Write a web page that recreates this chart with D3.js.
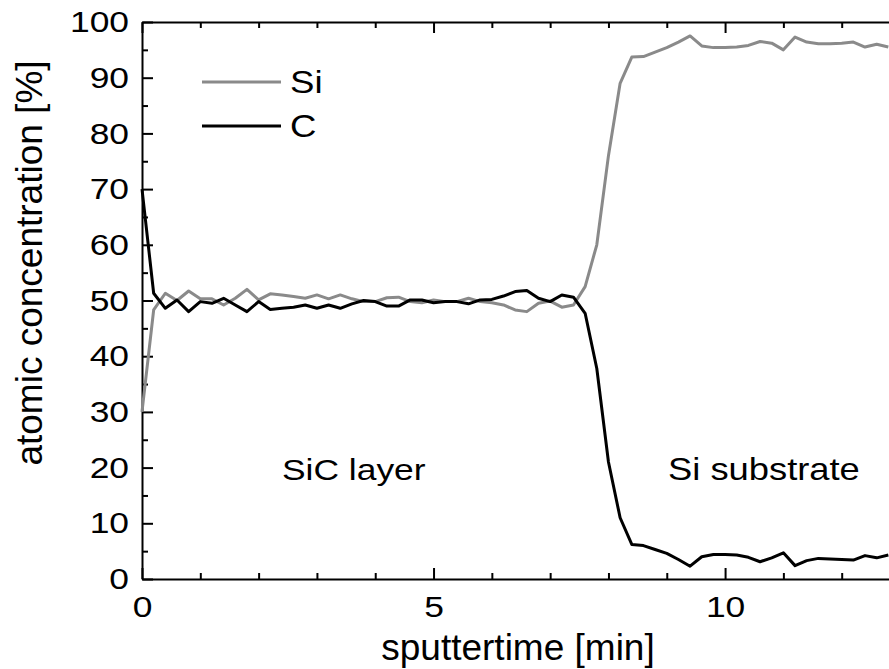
<!DOCTYPE html>
<html><head><meta charset="utf-8">
<script src="https://cdn.jsdelivr.net/npm/d3@7"></script>
<style>
body{margin:0;background:#fff;}
svg{display:block;}
text{font-family:"Liberation Sans",Arial,Helvetica,sans-serif;fill:#000;}
</style>
</head><body>
<svg id="chart" width="889" height="669"></svg>
<script>
// ---- data ----
const time = [0,0.2,0.4,0.6,0.8,1.0,1.2,1.4,1.6,1.8,2.0,2.2,2.4,2.6,2.8,3.0,3.2,3.4,3.6,3.8,
  4.0,4.2,4.4,4.6,4.8,5.0,5.2,5.4,5.6,5.8,6.0,6.2,6.4,6.6,6.8,7.0,7.2,7.4,7.6,7.8,
  8.0,8.2,8.4,8.6,8.8,9.0,9.2,9.4,9.6,9.8,10.0,10.2,10.4,10.6,10.8,11.0,11.2,11.4,11.6,11.8,
  12.0,12.2,12.4,12.6,12.8];
const siValues = [30,48.3,51.3,50.0,51.7,50.3,50.3,49.2,50.4,52.0,50.1,51.2,51.0,50.7,50.4,51.0,50.3,51.0,50.3,49.8,
  49.8,50.5,50.6,49.8,49.6,50.1,49.8,49.8,50.4,49.8,49.6,49.2,48.3,48.0,49.5,49.9,48.8,49.2,52.5,60,
  76,89,93.7,93.8,94.6,95.4,96.4,97.5,95.7,95.4,95.4,95.5,95.8,96.5,96.2,95.0,97.3,96.4,96.1,96.1,
  96.2,96.4,95.5,96.0,95.5];
const cValues = [70,51.3,48.6,50.1,48.0,49.8,49.5,50.4,49.2,48.0,49.8,48.4,48.6,48.8,49.2,48.6,49.2,48.6,49.4,50.0,
  49.8,49.0,49.0,50.1,50.1,49.6,49.8,49.8,49.4,50.1,50.2,50.8,51.6,51.8,50.4,49.8,51.0,50.6,47.7,37.8,
  21,11,6.2,6.0,5.3,4.6,3.5,2.3,4.0,4.4,4.4,4.3,3.9,3.1,3.8,4.7,2.4,3.3,3.7,3.6,
  3.5,3.4,4.2,3.8,4.3];
const seriesNames = ["Si", "C"];
const xMajorTicks = [0, 5, 10];
const xMinorTicks = [1, 2, 3, 4, 6, 7, 8, 9, 11, 12];
const yMajorTicks = [0, 10, 20, 30, 40, 50, 60, 70, 80, 90, 100];
const yMinorTicks = [5, 15, 25, 35, 45, 55, 65, 75, 85, 95];
const xTitle = "sputtertime [min]";
const yTitle = "atomic concentration [%]";
const regionLabels = ["SiC layer", "Si substrate"];

// ---- layout ----
const L = 142, R = 900, T = 22, B = 579;
const colors = {Si: "#8a8a8a", C: "#000000"};
const stretch = "scale(1.18,1)";

const svg = d3.select("#chart");
const x = d3.scaleLinear().domain([0, 13]).range([L, R]);
const y = d3.scaleLinear().domain([0, 100]).range([B, T]);

function styleAxis(g) {
  g.selectAll("path.domain").attr("stroke", "#000").attr("stroke-width", 2);
  g.selectAll(".tick line").attr("stroke", "#000").attr("stroke-width", 2);
}

// minor ticks (all four sides)
const minor = [
  [d3.axisBottom(x).tickValues(xMinorTicks), `translate(0,${B})`],
  [d3.axisTop(x).tickValues(xMinorTicks), `translate(0,${T})`],
  [d3.axisLeft(y).tickValues(yMinorTicks), `translate(${L},0)`],
  [d3.axisRight(y).tickValues(yMinorTicks), `translate(${R},0)`]
];
minor.forEach(([ax, tr]) => {
  const g = svg.append("g").attr("transform", tr)
    .call(ax.tickSizeInner(-6).tickSizeOuter(0).tickFormat(""));
  g.select("path.domain").remove();
  styleAxis(g);
});

// major ticks + spines
const gx = svg.append("g").attr("transform", `translate(0,${B})`)
  .call(d3.axisBottom(x).tickValues(xMajorTicks).tickSizeInner(-11).tickSizeOuter(0).tickPadding(17).tickFormat(d3.format("d")));
const gxt = svg.append("g").attr("transform", `translate(0,${T})`)
  .call(d3.axisTop(x).tickValues(xMajorTicks).tickSizeInner(-11).tickSizeOuter(0).tickFormat(""));
const gy = svg.append("g").attr("transform", `translate(${L},0)`)
  .call(d3.axisLeft(y).tickValues(yMajorTicks).tickSizeInner(-11).tickSizeOuter(0).tickPadding(11).tickFormat(d3.format("d")));
const gyr = svg.append("g").attr("transform", `translate(${R},0)`)
  .call(d3.axisRight(y).tickValues(yMajorTicks).tickSizeInner(-11).tickSizeOuter(0).tickFormat(""));
[gx, gxt, gy, gyr].forEach(styleAxis);
[gx, gy].forEach(g => g.selectAll(".tick text")
  .attr("font-family", "Liberation Sans, Arial, sans-serif")
  .attr("font-size", 30).attr("fill", "#000").attr("transform", stretch));

// lines
const series = [
  {name: "Si", values: siValues},
  {name: "C", values: cValues}
];
const line = d3.line().x(d => x(d[0])).y(d => y(d[1]));
series.forEach(s => {
  svg.append("path")
    .datum(time.map((t, i) => [t, s.values[i]]))
    .attr("d", line)
    .attr("fill", "none")
    .attr("stroke", colors[s.name])
    .attr("stroke-width", 3)
    .attr("stroke-linejoin", "round");
});

// axis titles
svg.append("text").attr("x", 518).attr("y", 660).attr("text-anchor", "middle")
  .attr("font-size", 37).text(xTitle);
svg.append("text").attr("transform", "translate(42,263) rotate(-90)").attr("text-anchor", "middle")
  .attr("font-size", 37).text(yTitle);

// legend
const legendY = [82, 126];
seriesNames.forEach((n, i) => {
  svg.append("line").attr("x1", 202).attr("x2", 281).attr("y1", legendY[i]).attr("y2", legendY[i])
    .attr("stroke", colors[n]).attr("stroke-width", 3);
  svg.append("text").attr("transform", `translate(290,${legendY[i] + 11}) ${stretch}`)
    .attr("font-size", 31).text(n);
});

// region labels
const regionPos = [[282, 480], [668, 480]];
const regionSize = [30, 30.8];
regionLabels.forEach((t, i) => {
  svg.append("text").attr("transform", `translate(${regionPos[i][0]},${regionPos[i][1]}) ${stretch}`)
    .attr("font-size", regionSize[i]).text(t);
});
</script>
</body></html>
